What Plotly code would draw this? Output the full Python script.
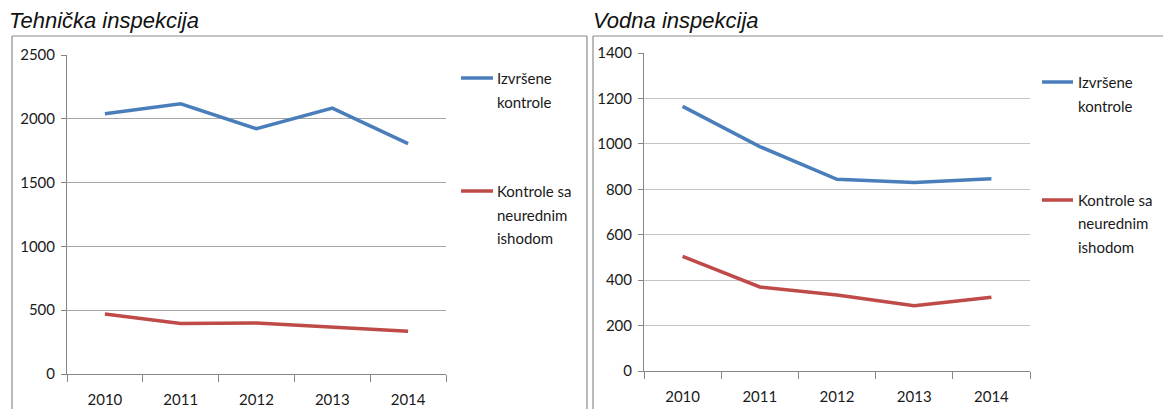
import plotly.graph_objects as go

W, H = 1163, 409

years = ["2010", "2011", "2012", "2013", "2014"]

teh_izvrsene = [2040, 2118, 1922, 2084, 1806]
teh_neuredne = [470, 395, 400, 365, 335]

vod_izvrsene = [1165, 988, 844, 830, 846]
vod_neuredne = [505, 370, 335, 287, 325]

series_lines = [["Izvršene", "kontrole"], ["Kontrole sa", "neurednim", "ishodom"]]
titles = ["Tehnička inspekcija", "Vodna inspekcija"]

BLUE = "#4a7ebb"
RED = "#be4b48"
FONT = "Lato, Liberation Sans Narrow, sans-serif"

def px_x(v):
    return v / W

def px_y(v):
    return (H - v) / H

fig = go.Figure()

fig.add_trace(go.Scatter(x=years, y=teh_izvrsene, mode="lines", line=dict(color=BLUE, width=3.5),
                         xaxis="x", yaxis="y", showlegend=False, hoverinfo="skip"))
fig.add_trace(go.Scatter(x=years, y=teh_neuredne, mode="lines", line=dict(color=RED, width=3.5),
                         xaxis="x", yaxis="y", showlegend=False, hoverinfo="skip"))
fig.add_trace(go.Scatter(x=years, y=vod_izvrsene, mode="lines", line=dict(color=BLUE, width=3.5),
                         xaxis="x2", yaxis="y2", showlegend=False, hoverinfo="skip"))
fig.add_trace(go.Scatter(x=years, y=vod_neuredne, mode="lines", line=dict(color=RED, width=3.5),
                         xaxis="x2", yaxis="y2", showlegend=False, hoverinfo="skip"))

xcommon = dict(type="category", showgrid=False, showline=True, linecolor="#868686", linewidth=1,
               ticks="outside", tickson="boundaries", ticklen=7, tickcolor="#868686",
               ticklabelstandoff=12,
               tickfont=dict(family=FONT, size=15, color="#1a1a1a"), range=[-0.5, 4.5],
               fixedrange=True, automargin=False)
ycommon = dict(showgrid=True, showline=True, linecolor="#868686", linewidth=1, zeroline=False,
               ticks="outside", ticklen=5, tickcolor="#868686", ticklabelstandoff=3,
               tickfont=dict(family=FONT, size=15, color="#1a1a1a"), fixedrange=True, automargin=False)

fig.update_layout(
    width=W, height=H, autosize=False,
    margin=dict(l=0, r=0, t=0, b=0, pad=0, autoexpand=False),
    plot_bgcolor="white", paper_bgcolor="white",
    xaxis=dict(xcommon, domain=[px_x(67), px_x(446)], anchor="y"),
    yaxis=dict(ycommon, domain=[px_y(374), px_y(55)], range=[0, 2500], dtick=500,
               gridcolor="#a6a6a6", anchor="x"),
    xaxis2=dict(xcommon, domain=[px_x(644), px_x(1030)], anchor="y2"),
    yaxis2=dict(ycommon, domain=[px_y(371), px_y(53)], range=[0, 1400], dtick=200,
                gridcolor="#c4c4c4", anchor="x2"),
)

# panel borders (open at the bottom / right, as in the reference crop)
BORDER = dict(color="#8c8c8c", width=1.2)
for x0, x1, close_right in [(12, 587, True), (593, 1163, False)]:
    fig.add_shape(type="line", xref="paper", yref="paper", x0=px_x(x0), x1=px_x(x1),
                  y0=px_y(36), y1=px_y(36), line=BORDER)
    fig.add_shape(type="line", xref="paper", yref="paper", x0=px_x(x0), x1=px_x(x0),
                  y0=0, y1=px_y(36), line=BORDER)
    if close_right:
        fig.add_shape(type="line", xref="paper", yref="paper", x0=px_x(x1), x1=px_x(x1),
                      y0=0, y1=px_y(36), line=BORDER)

# titles
for t, x0 in zip(titles, [7, 591]):
    fig.add_annotation(text=f"<i>{t}</i>", xref="paper", yref="paper", x=px_x(x0), y=px_y(21),
                       xanchor="left", yanchor="middle", showarrow=False,
                       font=dict(family="Liberation Sans, Arial, sans-serif", size=22, color="#111"))

# legends
legend_pos = [((461, 493, 495), [78, 191]), ((1042, 1073, 1076), [82, 200])]
for (lx0, lx1, tx), ys in legend_pos:
    for lines, col, ly in zip(series_lines, [BLUE, RED], ys):
        fig.add_shape(type="line", xref="paper", yref="paper", x0=px_x(lx0), x1=px_x(lx1),
                      y0=px_y(ly), y1=px_y(ly), line=dict(color=col, width=3.5))
        for i, ln in enumerate(lines):
            fig.add_annotation(text=ln, xref="paper", yref="paper", x=px_x(tx), y=px_y(ly + 23.5 * i),
                               xanchor="left", yanchor="middle", align="left", showarrow=False,
                               font=dict(family=FONT, size=15, color="#1a1a1a"))

fig.write_html("out.html", config={"displayModeBar": False, "responsive": False},
               post_script="document.body.style.margin='0';document.body.style.overflow='hidden';")
